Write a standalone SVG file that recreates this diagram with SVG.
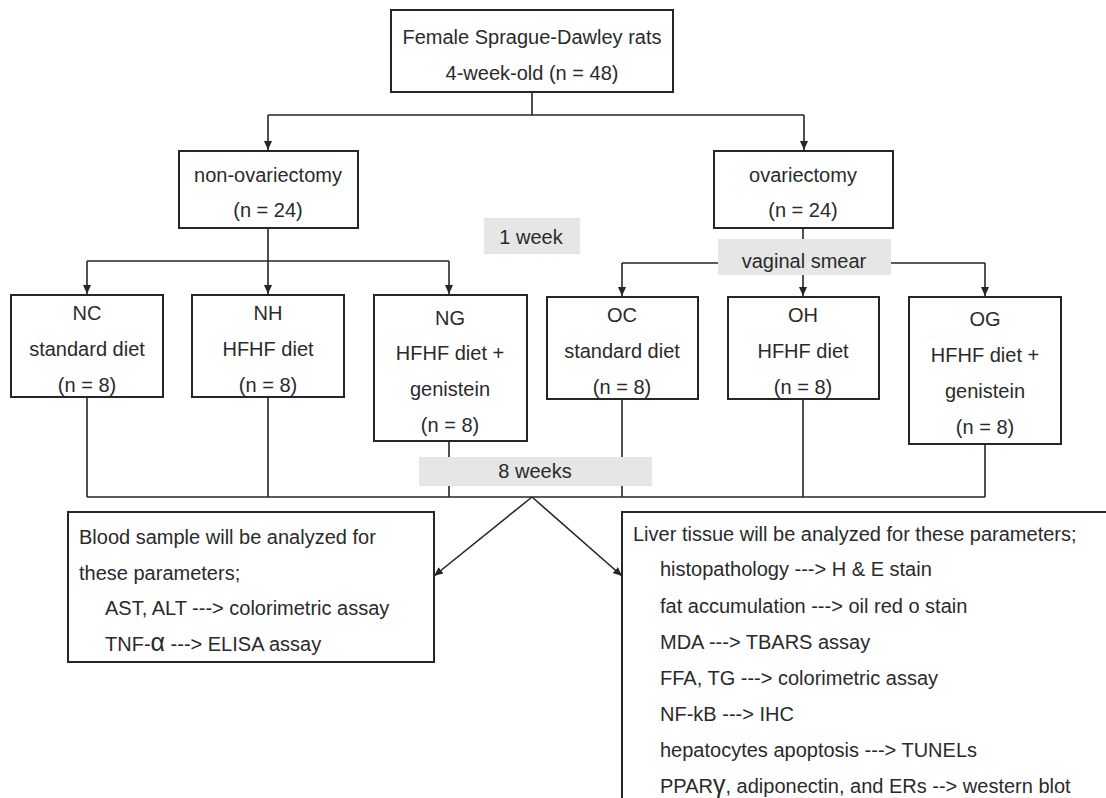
<svg xmlns="http://www.w3.org/2000/svg" width="1106" height="798" viewBox="0 0 1106 798">
  <style>
    .box { fill: #ffffff; stroke: #262626; stroke-width: 2; }
    .tag { fill: #e6e6e6; stroke: none; }
    .wire { fill: none; stroke: #262626; stroke-width: 1.6; }
    text { font-family: "Liberation Sans", Arial, sans-serif; font-size: 20px; fill: #2a2a2a; }
    .c { text-anchor: middle; }
    .greek { font-size: 25px; }
  </style>
  <defs>
    <marker id="arrow" markerUnits="userSpaceOnUse" markerWidth="10" markerHeight="10" refX="9" refY="4" orient="auto">
      <path d="M0,0 L9,4 L0,8 z" fill="#262626"/>
    </marker>
  </defs>

  <!-- connectors -->
  <g id="connectors">
    <path class="wire" d="M532,92 V115 M268,115 H804"/>
    <path class="wire" d="M268,115 V150" marker-end="url(#arrow)"/>
    <path class="wire" d="M804,115 V150" marker-end="url(#arrow)"/>

    <path class="wire" d="M268,228 V261 M87,261 H449"/>
    <path class="wire" d="M87,261 V294" marker-end="url(#arrow)"/>
    <path class="wire" d="M268,261 V294" marker-end="url(#arrow)"/>
    <path class="wire" d="M449,261 V294" marker-end="url(#arrow)"/>

    <path class="wire" d="M803,228 V250 M622,263 H985"/>
    <path class="wire" d="M803,270 V296" marker-end="url(#arrow)"/>
    <path class="wire" d="M622,263 V296" marker-end="url(#arrow)"/>
    <path class="wire" d="M985,263 V296" marker-end="url(#arrow)"/>

    <path class="wire" d="M87,397 V497 M268,397 V497 M449,441 V497 M622,399 V497 M803,399 V497 M985,444 V497 M87,497 H985"/>
    <path class="wire" d="M532,497 L434,576" marker-end="url(#arrow)"/>
    <path class="wire" d="M532,497 L622,576" marker-end="url(#arrow)"/>
  </g>

  <!-- timing labels drawn over the lines -->
  <g id="label-1week">
    <rect class="tag" x="484" y="218" width="96" height="36"/>
    <text class="c" x="531" y="244">1 week</text>
  </g>
  <g id="label-vaginal-smear">
    <rect class="tag" x="718" y="239" width="173" height="36"/>
    <text class="c" x="804" y="268">vaginal smear</text>
  </g>
  <g id="label-8weeks">
    <rect class="tag" x="419" y="457" width="233" height="29"/>
    <text class="c" x="535" y="478">8 weeks</text>
  </g>

  <g id="rats">
    <rect class="box" x="391" y="10" width="282" height="82"/>
    <text class="c" x="532" y="44">Female Sprague-Dawley rats</text>
    <text class="c" x="532" y="80">4-week-old (n = 48)</text>
  </g>

  <g id="non-ovariectomy">
    <rect class="box" x="179" y="151" width="179" height="77"/>
    <text class="c" x="268" y="182">non-ovariectomy</text>
    <text class="c" x="268" y="217">(n = 24)</text>
  </g>

  <g id="ovariectomy">
    <rect class="box" x="714" y="151" width="179" height="77"/>
    <text class="c" x="803" y="182">ovariectomy</text>
    <text class="c" x="803" y="217">(n = 24)</text>
  </g>

  <g id="NC">
    <rect class="box" x="11" y="295" width="152" height="102"/>
    <text class="c" x="87" y="320">NC</text>
    <text class="c" x="87" y="356">standard diet</text>
    <text class="c" x="87" y="392">(n = 8)</text>
  </g>

  <g id="NH">
    <rect class="box" x="192" y="295" width="152" height="102"/>
    <text class="c" x="268" y="320">NH</text>
    <text class="c" x="268" y="356">HFHF diet</text>
    <text class="c" x="268" y="392">(n = 8)</text>
  </g>

  <g id="NG">
    <rect class="box" x="374" y="295" width="153" height="146"/>
    <text class="c" x="450" y="325">NG</text>
    <text class="c" x="450" y="360">HFHF diet +</text>
    <text class="c" x="450" y="396">genistein</text>
    <text class="c" x="450" y="432">(n = 8)</text>
  </g>

  <g id="OC">
    <rect class="box" x="547" y="297" width="151" height="102"/>
    <text class="c" x="622" y="322">OC</text>
    <text class="c" x="622" y="358">standard diet</text>
    <text class="c" x="622" y="394">(n = 8)</text>
  </g>

  <g id="OH">
    <rect class="box" x="728" y="297" width="151" height="102"/>
    <text class="c" x="803" y="322">OH</text>
    <text class="c" x="803" y="358">HFHF diet</text>
    <text class="c" x="803" y="394">(n = 8)</text>
  </g>

  <g id="OG">
    <rect class="box" x="909" y="297" width="152" height="147"/>
    <text class="c" x="985" y="326">OG</text>
    <text class="c" x="985" y="362">HFHF diet +</text>
    <text class="c" x="985" y="398">genistein</text>
    <text class="c" x="985" y="434">(n = 8)</text>
  </g>

  <g id="blood">
    <rect class="box" x="68" y="512" width="366" height="150"/>
    <text x="79" y="544">Blood sample will be analyzed for</text>
    <text x="79" y="580">these parameters;</text>
    <text x="105" y="615">AST, ALT ---&gt; colorimetric assay</text>
    <text x="105" y="651">TNF-<tspan class="greek">α</tspan> ---&gt; ELISA assay</text>
  </g>

  <g id="liver">
    <rect class="box" x="622" y="512" width="600" height="400"/>
    <text x="633" y="541">Liver tissue will be analyzed for these parameters;</text>
    <text x="660" y="576">histopathology ---&gt; H &amp; E stain</text>
    <text x="660" y="613">fat accumulation ---&gt; oil red o stain</text>
    <text x="660" y="649">MDA ---&gt; TBARS assay</text>
    <text x="660" y="685">FFA, TG ---&gt; colorimetric assay</text>
    <text x="660" y="721">NF-kB ---&gt; IHC</text>
    <text x="660" y="757">hepatocytes apoptosis ---&gt; TUNELs</text>
    <text x="660" y="793">PPAR<tspan class="greek">γ</tspan>, adiponectin, and ERs --&gt; western blot</text>
  </g>
</svg>
